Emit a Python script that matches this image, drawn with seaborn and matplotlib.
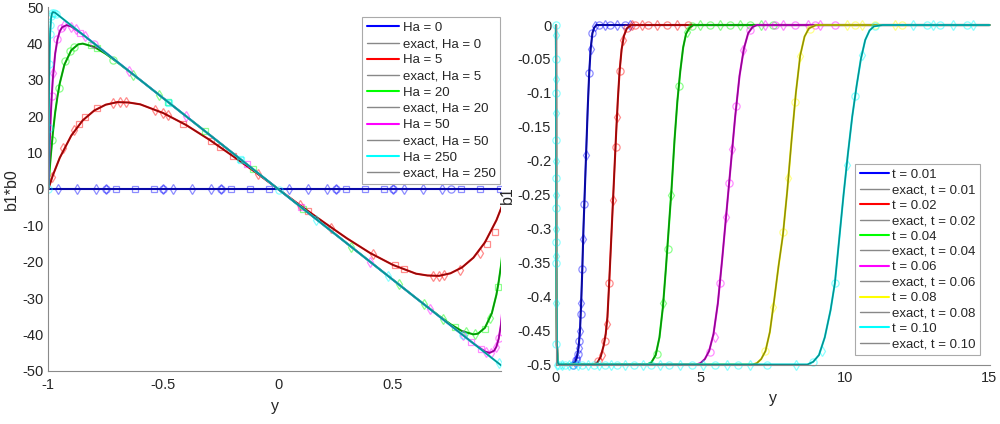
import matplotlib
matplotlib.use('Agg')
import matplotlib.pyplot as plt
from matplotlib.lines import Line2D
import seaborn as sns

# ---------------- left panel: b1*b0 across the channel ----------------
ha_labels = ['Ha = 0', 'Ha = 5', 'Ha = 20', 'Ha = 50', 'Ha = 250']
ha_colors = ['#0000ff', '#ff0000', '#00ff00', '#ff00ff', '#00ffff']

y_ha0 = [-1, 1]
b_ha0 = [0, 0]

y_ha5 = [-1, -0.98, -0.95, -0.9, -0.85, -0.8, -0.75, -0.7, -0.65, -0.6, -0.5, -0.4, -0.3, -0.2, -0.1, 0,
         0.1, 0.2, 0.3, 0.4, 0.5, 0.6, 0.65, 0.7, 0.75, 0.8, 0.85, 0.9, 0.95, 0.98, 1]
b_ha5 = [0, 3.8, 8.6, 14.7, 18.9, 21.6, 23.2, 23.9, 23.8, 23.3, 20.9, 17.6, 13.6, 9.2, 4.7, 0,
         -4.7, -9.2, -13.6, -17.6, -20.9, -23.3, -23.8, -23.9, -23.2, -21.6, -18.9, -14.7, -8.6, -3.8, 0]

y_ha20 = [-1, -0.995, -0.99, -0.98, -0.97, -0.96, -0.95, -0.93, -0.9, -0.87, -0.85, -0.8, -0.75, -0.7, -0.6,
          -0.4, -0.2, 0, 0.2, 0.4, 0.6, 0.7, 0.75, 0.8, 0.85, 0.87, 0.9, 0.93, 0.95, 0.96, 0.97, 0.98,
          0.99, 0.995, 1]
b_ha20 = [0, 4.5, 8.6, 15.5, 21.1, 25.5, 29.1, 34.2, 38.2, 39.8, 40.0, 39.1, 37.2, 34.9, 30.0,
          20.0, 10.0, 0, -10.0, -20.0, -30.0, -34.9, -37.2, -39.1, -40.0, -39.8, -38.2, -34.2, -29.1, -25.5,
          -21.1, -15.5, -8.6, -4.5, 0]

y_ha50 = [-1, -0.998, -0.995, -0.99, -0.985, -0.98, -0.97, -0.96, -0.95, -0.94, -0.92, -0.9, -0.85, -0.8,
          -0.5, 0, 0.5, 0.8, 0.85, 0.9, 0.92, 0.94, 0.95, 0.96, 0.97, 0.98, 0.985, 0.99, 0.995, 0.998, 1]
b_ha50 = [0, 4.7, 10.8, 19.2, 25.6, 30.6, 37.3, 41.2, 43.4, 44.5, 45.1, 44.7, 42.5, 40.0,
          25.0, 0, -25.0, -40.0, -42.5, -44.7, -45.1, -44.5, -43.4, -41.2, -37.3, -30.6, -25.6, -19.2,
          -10.8, -4.7, 0]

y_ha250 = [-1, -0.999, -0.998, -0.996, -0.994, -0.992, -0.988, -0.984, -0.98, -0.97, 0,
           0.97, 0.98, 0.984, 0.988, 0.992, 0.994, 0.996, 0.998, 0.999, 1]
b_ha250 = [0, 11.0, 19.6, 31.4, 38.5, 42.8, 46.9, 48.3, 48.7, 48.5, 0,
           -48.5, -48.7, -48.3, -46.9, -42.8, -38.5, -31.4, -19.6, -11.0, 0]

# numerical solution points (markers)
mx_ha0 = [-0.957, -0.874, -0.793, -0.749, -0.749, -0.707, -0.623, -0.54, -0.5, -0.5, -0.457, -0.374,
          -0.293, -0.25, -0.25, -0.207, -0.123, -0.039, 0.047, 0.13, 0.213, 0.251, 0.251, 0.297, 0.377,
          0.46, 0.5, 0.5, 0.548, 0.63, 0.713, 0.754, 0.797, 0.88, 0.964]
my_ha0 = [0] * len(mx_ha0)
mk_ha0 = 'ddddosssdoddddosssddddosssdodddosss'

mx_ha5 = [-0.983, -0.935, -0.888, -0.865, -0.84, -0.79, -0.72, -0.69, -0.66, -0.536, -0.5, -0.48, -0.413,
          -0.29, -0.254, -0.196, -0.087, 0.094, 0.13, 0.232, 0.413, 0.507, 0.55, 0.675, 0.7, 0.72, 0.79,
          0.877, 0.91, 0.942]
my_ha5 = [3.3, 11.2, 16.3, 17.8, 19.9, 22.2, 23.6, 23.9, 23.9, 21.8, 21.0, 20.4, 18.0, 13.1, 11.5, 9.0,
          4.0, -4.4, -6.0, -10.6, -18.0, -20.8, -21.9, -23.9, -23.9, -23.7, -22.3, -17.7, -15.0, -11.8]
mk_ha5 = 'dddsssddddddssssddsddssdddddss'

mx_ha20 = [-0.982, -0.953, -0.927, -0.906, -0.888, -0.816, -0.79, -0.717, -0.63, -0.517, -0.478, -0.319,
           -0.109, 0.109, 0.319, 0.525, 0.633, 0.717, 0.768, 0.819, 0.855, 0.899, 0.92, 0.957]
my_ha20 = [13.5, 27.9, 35.3, 37.9, 39.0, 39.5, 38.9, 35.6, 31.5, 25.9, 23.9, 16.0, 5.5, -5.5, -16.0,
           -26.2, -31.6, -35.8, -37.9, -39.3, -40.0, -38.5, -35.6, -27.0]
mk_ha20 = 'ooooossoddssssddddsddsds'

mx_ha50 = [-0.985, -0.978, -0.96, -0.945, -0.93, -0.9, -0.88, -0.86, -0.84, -0.8, -0.65, -0.4, -0.137,
           0.1, 0.399, 0.66, 0.804, 0.84, 0.884, 0.905, 0.928, 0.95, 0.961]
my_ha50 = [25.6, 32.0, 41.2, 44.2, 45.0, 44.7, 44.0, 43.0, 42.0, 40.0, 32.5, 20.0, 6.9, -5.0, -20.0,
           -33.0, -40.2, -42.0, -44.1, -44.8, -45.0, -43.4, -40.9]
mk_ha50 = 'odoodddsdoddssdddssdddos'

mx_ha250 = [-1.0, -0.9984, -0.9953, -0.9921, -0.9906, -0.9876, -0.9832, -0.975, -0.965, -0.478, -0.474,
            -0.167, -0.162, 0.004, 0.167, 0.478, 0.804, 0.961]
my_ha250 = [0, 16.7, 34.5, 42.6, 45.0, 47.5, 48.5, 48.5, 48.2, 23.9, 23.7, 8.3, 8.1, -0.2, -8.4, -23.9,
            -40.2, -48.0]
mk_ha250 = 'ooooooooossssoddod'

# ---------------- right panel: b1 profiles at several times ----------------
t_labels = ['t = 0.01', 't = 0.02', 't = 0.04', 't = 0.06', 't = 0.08', 't = 0.10']
t_colors = ['#0000ff', '#ff0000', '#00ff00', '#ff00ff', '#ffff00', '#00ffff']

y_t01 = [0, 0.01, 0.03, 0.06, 0.1, 0.55, 0.65, 0.72, 0.78, 0.83, 0.87, 0.91, 0.95, 1.0, 1.05, 1.1, 1.15,
         1.2, 1.26, 1.32, 1.4, 15]
b_t01 = [0, -0.35, -0.47, -0.497, -0.5, -0.5, -0.497, -0.49, -0.475, -0.45, -0.41, -0.36, -0.3, -0.24,
         -0.18, -0.12, -0.07, -0.035, -0.012, -0.004, 0, 0]

y_t02 = [0, 0.01, 0.03, 0.06, 0.1, 1.35, 1.45, 1.55, 1.65, 1.72, 1.78, 1.84, 1.9, 1.96, 2.02, 2.08, 2.14,
         2.2, 2.27, 2.35, 2.45, 2.6, 15]
b_t02 = [0, -0.35, -0.47, -0.497, -0.5, -0.5, -0.496, -0.488, -0.472, -0.455, -0.43, -0.38, -0.325, -0.27,
         -0.215, -0.16, -0.11, -0.068, -0.036, -0.016, -0.005, 0, 0]

y_t04 = [0, 0.01, 0.03, 0.06, 0.1, 3.15, 3.3, 3.45, 3.58, 3.7, 3.8, 3.9, 4.0, 4.1, 4.2, 4.3, 4.4, 4.5,
         4.62, 4.75, 15]
b_t04 = [0, -0.35, -0.47, -0.497, -0.5, -0.5, -0.497, -0.486, -0.46, -0.415, -0.36, -0.3, -0.24, -0.17,
         -0.112, -0.068, -0.033, -0.013, -0.004, 0, 0]

y_t06 = [0, 0.01, 0.03, 0.06, 0.1, 4.85, 5.0, 5.15, 5.3, 5.45, 5.6, 5.75, 5.9, 6.05, 6.2, 6.35, 6.5,
         6.65, 6.8, 6.95, 15]
b_t06 = [0, -0.35, -0.47, -0.497, -0.5, -0.5, -0.498, -0.492, -0.48, -0.455, -0.41, -0.345, -0.275,
         -0.205, -0.135, -0.075, -0.035, -0.012, -0.003, 0, 0]

y_t08 = [0, 0.01, 0.03, 0.06, 0.1, 6.8, 6.95, 7.1, 7.25, 7.4, 7.55, 7.7, 7.85, 8.0, 8.15, 8.3, 8.45,
         8.6, 8.75, 9.0, 15]
b_t08 = [0, -0.35, -0.47, -0.497, -0.5, -0.5, -0.498, -0.492, -0.48, -0.452, -0.405, -0.355, -0.31,
         -0.245, -0.17, -0.1, -0.045, -0.017, -0.005, 0, 0]

y_t10 = [0, 0.01, 0.03, 0.06, 0.1, 8.7, 8.9, 9.1, 9.3, 9.5, 9.65, 9.8, 9.95, 10.1, 10.25, 10.4, 10.55,
         10.7, 10.85, 11.0, 11.3, 15]
b_t10 = [0, -0.35, -0.47, -0.497, -0.5, -0.5, -0.496, -0.486, -0.46, -0.42, -0.38, -0.315, -0.25, -0.19,
         -0.135, -0.09, -0.05, -0.022, -0.008, -0.002, 0, 0]

mx_t01 = [0.6, 0.66, 0.7, 0.72, 0.75, 0.78, 0.8, 0.83, 0.855, 0.87, 0.91, 0.94, 0.98, 1.04, 1.15, 1.2,
          1.26, 1.35, 1.5, 1.7, 1.87, 2.1, 2.38, 2.56]
my_t01 = [-0.5, -0.497, -0.494, -0.49, -0.485, -0.475, -0.465, -0.45, -0.425, -0.41, -0.36, -0.315,
          -0.264, -0.192, -0.07, -0.035, -0.012, -0.002, 0, 0, 0, 0, 0, 0]

mx_t02 = [1.46, 1.58, 1.7, 1.77, 1.84, 1.98, 2.07, 2.12, 2.2, 2.33, 2.44, 2.62, 2.75, 2.96, 3.19, 3.48,
          3.83, 4.18, 4.58]
my_t02 = [-0.495, -0.486, -0.466, -0.44, -0.38, -0.257, -0.18, -0.135, -0.068, -0.022, -0.005, 0, 0, 0,
          0, 0, 0, 0, 0]

mx_t04 = [3.48, 3.71, 3.87, 3.99, 4.25, 4.52, 4.7, 4.98, 5.33, 5.67, 6.02, 6.37, 6.71, 7.1, 7.5]
my_t04 = [-0.484, -0.41, -0.33, -0.25, -0.09, -0.011, -0.002, 0, 0, 0, 0, 0, 0, 0, 0]

mx_t06 = [5.33, 5.5, 5.67, 5.88, 6.0, 6.1, 6.24, 6.48, 6.71, 7.23, 7.58, 7.87, 8.27, 8.73, 8.96, 9.13, 9.65]
my_t06 = [-0.482, -0.46, -0.38, -0.283, -0.233, -0.182, -0.119, -0.037, -0.007, 0, 0, 0, 0, 0, 0, 0, 0]

mx_t08 = [7.23, 7.52, 7.87, 8.04, 8.27, 8.44, 8.79, 10.06, 10.35, 10.58, 11.04, 11.73, 11.96]
my_t08 = [-0.48, -0.415, -0.305, -0.225, -0.114, -0.045, -0.006, 0, 0, 0, 0, 0, 0]

mx_t10 = [0, 0, 0, 0, 0, 0, 0, 0, 0, 0, 0, 0, 0, 0, 0, 0, 0, 0.03,
          0.1, 0.2, 0.3, 0.45, 0.6, 0.75, 0.9, 1.1, 1.3, 1.5, 1.7, 1.9, 2.1, 2.4, 2.7, 3.0, 3.3, 3.6, 3.9,
          4.3, 4.7, 5.1, 5.5, 5.9, 6.3, 6.7, 7.3, 8.3,
          8.9, 9.19, 9.65, 10.06, 10.35, 10.58, 11.04, 12.37, 12.83, 13.06, 13.29, 13.75, 14.21, 14.44]
my_t10 = [0, -0.015, -0.05, -0.08, -0.1, -0.13, -0.17, -0.2, -0.225, -0.25, -0.27, -0.3, -0.32, -0.34,
          -0.35, -0.41, -0.47, -0.5,
          -0.5, -0.5, -0.5, -0.5, -0.5, -0.5, -0.5, -0.5, -0.5, -0.5, -0.5, -0.5, -0.5, -0.5, -0.5, -0.5,
          -0.5, -0.5, -0.5, -0.5, -0.5, -0.5, -0.5, -0.5, -0.5, -0.5, -0.5, -0.5,
          -0.496, -0.48, -0.38, -0.206, -0.105, -0.044, -0.002, 0, 0, 0, 0, 0, 0, 0]

left_xticks = [-1, -0.5, 0, 0.5]
left_xticklabels = ['-1', '-0.5', '0', '0.5']
left_yticks = [-50, -40, -30, -20, -10, 0, 10, 20, 30, 40, 50]
right_xticks = [0, 5, 10, 15]
right_yticks = [0, -0.05, -0.1, -0.15, -0.2, -0.25, -0.3, -0.35, -0.4, -0.45, -0.5]
right_yticklabels = ['0', '-0.05', '-0.1', '-0.15', '-0.2', '-0.25', '-0.3', '-0.35', '-0.4', '-0.45', '-0.5']

sns.set_theme(style='white')
plt.rcParams['font.family'] = ['Liberation Sans', 'DejaVu Sans']
plt.rcParams['axes.unicode_minus'] = False

fig = plt.figure(figsize=(10, 4.24), dpi=100)
ax1 = fig.add_axes([0.0483, 0.1257, 0.4527, 0.8571])
ax2 = fig.add_axes([0.556, 0.1403, 0.4335, 0.8007])


def draw(ax, xs, ys, mx, my, mk, c, clip=True):
    # numerical solution (coloured line + hollow markers), then the exact curve on top
    sns.lineplot(x=xs, y=ys, ax=ax, color=c, lw=1.5, sort=False, estimator=None, clip_on=clip)
    for m in sorted(set(mk)):
        px = [a for a, k in zip(mx, mk) if k == m]
        py = [b for b, k in zip(my, mk) if k == m]
        ax.plot(px, py, ls='none', marker=m, ms=5.2 if m != 's' else 4.6, mfc='none', mec=c,
                mew=0.9, alpha=0.45, clip_on=clip)
    sns.lineplot(x=xs, y=ys, ax=ax, color='k', lw=1.1, alpha=0.5, sort=False, estimator=None,
                 clip_on=clip)


left_sets = [(y_ha0, b_ha0, mx_ha0, my_ha0, mk_ha0), (y_ha5, b_ha5, mx_ha5, my_ha5, mk_ha5),
             (y_ha20, b_ha20, mx_ha20, my_ha20, mk_ha20), (y_ha50, b_ha50, mx_ha50, my_ha50, mk_ha50),
             (y_ha250, b_ha250, mx_ha250, my_ha250, mk_ha250)]
for (xs, ys, mx, my, mk), c in zip(left_sets, ha_colors):
    draw(ax1, xs, ys, mx, my, mk, c)

right_sets = [(y_t01, b_t01, mx_t01, my_t01), (y_t02, b_t02, mx_t02, my_t02),
              (y_t04, b_t04, mx_t04, my_t04), (y_t06, b_t06, mx_t06, my_t06),
              (y_t08, b_t08, mx_t08, my_t08), (y_t10, b_t10, mx_t10, my_t10)]
for (xs, ys, mx, my), c in zip(right_sets, t_colors):
    mk = ('od' * len(mx))[:len(mx)]
    draw(ax2, xs, ys, mx, my, mk, c, clip=False)

ax1.set_xlim(-1, 0.97)
ax1.set_ylim(-50, 50)
ax1.set_xticks(left_xticks)
ax1.set_xticklabels(left_xticklabels)
ax1.set_yticks(left_yticks)
ax1.set_yticklabels([str(v) for v in left_yticks])
ax1.set_xlabel('y', fontsize=11.5, color='#262626', labelpad=5)
ax1.set_ylabel('b1*b0', fontsize=11.5, color='#262626', labelpad=2)

ax2.set_xlim(0, 15)
ax2.set_ylim(-0.5, 0)
ax2.set_xticks(right_xticks)
ax2.set_xticklabels([str(v) for v in right_xticks])
ax2.set_yticks(right_yticks)
ax2.set_yticklabels(right_yticklabels)
ax2.set_xlabel('y', fontsize=11.5, color='#262626', labelpad=4)
ax2.set_ylabel('b1', fontsize=11.5, color='#262626', labelpad=2)

for ax in (ax1, ax2):
    for side in ('top', 'right'):
        ax.spines[side].set_visible(False)
    for side in ('left', 'bottom'):
        ax.spines[side].set_color('#8a8a8a')
        ax.spines[side].set_linewidth(0.8)
    ax.tick_params(direction='in', length=3.5, width=0.7, color='#8a8a8a', labelcolor='#262626',
                   labelsize=10.5)
    ax.tick_params(axis='x', pad=5)
    ax.tick_params(axis='y', pad=3.5)


def legend_handles(labels, colors):
    hs = []
    for lab, c in zip(labels, colors):
        hs.append(Line2D([], [], color=c, lw=1.5, label=lab))
        hs.append(Line2D([], [], color='#888888', lw=1.0, label='exact, ' + lab))
    return hs


leg_kw = dict(fontsize=9.5, frameon=True, fancybox=False, framealpha=1, edgecolor='#aaaaaa',
              handletextpad=0.25, borderpad=0.35, borderaxespad=0)
l1 = ax1.legend(handles=legend_handles(ha_labels, ha_colors), loc='upper right',
                bbox_to_anchor=(0.998, 0.973), handlelength=2.45, labelspacing=0.3, **leg_kw)
l2 = ax2.legend(handles=legend_handles(t_labels, t_colors), loc='lower right',
                bbox_to_anchor=(0.978, 0.028), handlelength=2.2, labelspacing=0.24, **leg_kw)
for lg in (l1, l2):
    lg.get_frame().set_linewidth(0.8)
    for txt in lg.get_texts():
        txt.set_color('#262626')

fig.savefig('out.png', dpi=100)
